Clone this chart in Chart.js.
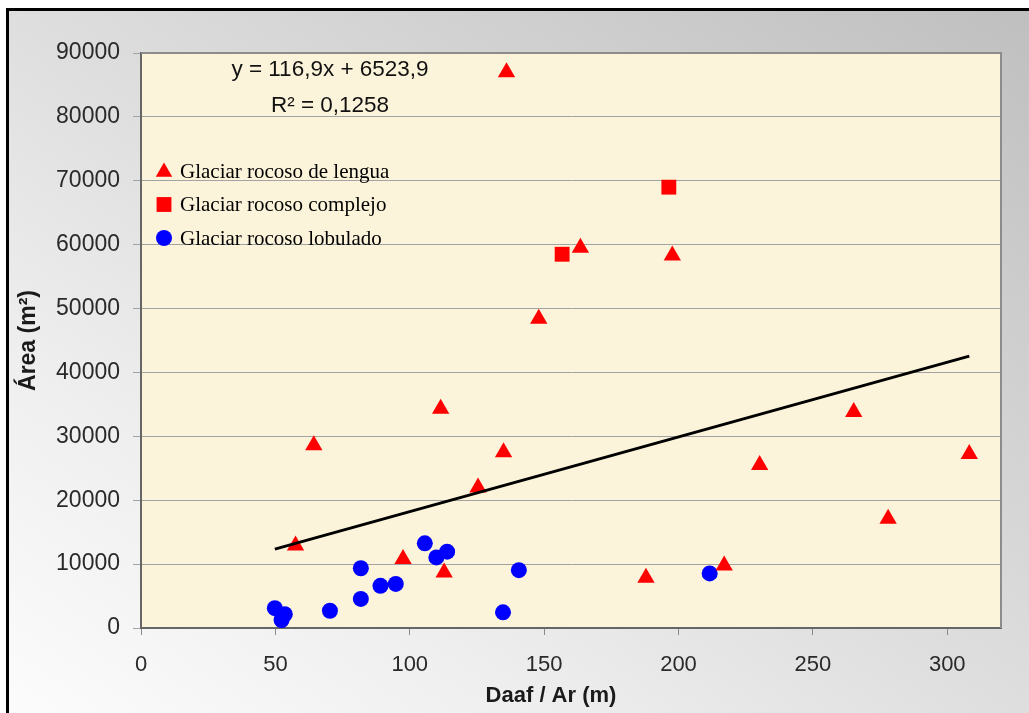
<!DOCTYPE html>
<html>
<head>
<meta charset="utf-8">
<title>Área vs Daaf / Ar</title>
<script src="https://cdn.jsdelivr.net/npm/chart.js"></script>
<style>
  html, body { margin: 0; padding: 0; background: #fff; overflow: hidden; }
  #frame {
    position: absolute; left: 6px; top: 8px; width: 1023px; height: 705px;
    border-left: 3px solid #000; border-top: 3px solid #000;
    background: linear-gradient(to bottom left, #bfbfbf 0%, #cfcfcf 25%, #dedede 50%, #efefef 75%, #fcfcfc 100%);
  }
  #wrap { position: absolute; left: 0; top: 0; width: 1029px; height: 713px; }
</style>
</head>
<body>
<div id="frame"></div>
<div id="wrap"><canvas id="chart" width="1029" height="713"></canvas></div>
<script>
// ---------- Data ----------
const lenguaX = [136, 163.5, 197.7, 148, 111.5, 64.3, 134.9, 125.4, 57.5, 97.5, 112.8, 187.9, 217, 230.2, 265.2, 278, 308.2];
const lenguaY = [87000, 59500, 58300, 48400, 34300, 28600, 27500, 22000, 12900, 10800, 8700, 7850, 9770, 25500, 33800, 17100, 27250];

const complejoX = [156.7, 196.4];
const complejoY = [58500, 69000];

const lobuladoX = [49.8, 53.5, 52.3, 70.3, 81.8, 81.8, 89.1, 94.8, 105.6, 109.9, 113.9, 134.7, 140.6, 211.6];
const lobuladoY = [3100, 2150, 1250, 2700, 9350, 4550, 6600, 6900, 13250, 11050, 11950, 2450, 9050, 8550];

// Linear trend over all points: y = 116,9x + 6523,9 (ends at data min/max x)
const trendX = [49.8, 308.2];
const trendY = [12345, 42550];

const eqLines = ["y = 116,9x + 6523,9", "R² = 0,1258"];
const xTitle = "Daaf / Ar (m)";
const yTitle = "Área (m²)";

const pts = (xs, ys) => xs.map((x, i) => ({ x, y: ys[i] }));

const SANS = "'Liberation Sans', Arial, sans-serif";
const SERIF = "'Liberation Serif', 'Times New Roman', serif";
Chart.defaults.font.family = SANS;

// ---------- Marker drawing for the in-plot legend ----------
function marker(ctx, style, x, y, r, color) {
  ctx.save();
  ctx.fillStyle = color;
  ctx.beginPath();
  if (style === "triangle") {
    ctx.moveTo(x, y - r);
    ctx.lineTo(x + r * 0.866, y + r * 0.5);
    ctx.lineTo(x - r * 0.866, y + r * 0.5);
    ctx.closePath();
  } else if (style === "rect") {
    const s = r * Math.SQRT1_2;
    ctx.rect(x - s, y - s, 2 * s, 2 * s);
  } else {
    ctx.arc(x, y, r, 0, Math.PI * 2);
  }
  ctx.fill();
  ctx.restore();
}

// Cream plot background + grey frame, equation, legend and x title.
const decor = {
  id: "decor",
  beforeDraw(chart) {
    const { ctx, chartArea: a } = chart;
    ctx.save();
    ctx.fillStyle = "#fcf4da";
    ctx.fillRect(a.left, a.top, a.right - a.left, a.bottom - a.top);
    ctx.restore();
  },
  afterDatasetsDraw(chart) {
    const { ctx, chartArea: a } = chart;
    ctx.save();
    // frame top/right
    ctx.strokeStyle = "#8c8c8c";
    ctx.lineWidth = 2;
    ctx.beginPath();
    ctx.moveTo(a.left, a.top);
    ctx.lineTo(a.right, a.top);
    ctx.lineTo(a.right, a.bottom);
    ctx.stroke();

    // regression equation
    ctx.fillStyle = "#111";
    ctx.font = "22.5px " + SANS;
    ctx.textAlign = "center";
    ctx.textBaseline = "middle";
    ctx.fillText(eqLines[0], a.left + 189, a.top + 17);
    ctx.fillText(eqLines[1], a.left + 189, a.top + 53);

    // legend (point datasets only)
    ctx.font = "21px " + SERIF;
    ctx.textAlign = "left";
    chart.data.datasets.filter(d => d.inLegend).forEach((d, i) => {
      const y = a.top + 118 + i * 33.5;
      const r = d.pointStyle === "triangle" ? 9.5 : d.pointRadius;
      marker(ctx, d.pointStyle, a.left + 23, y + (d.pointStyle === "triangle" ? 1 : 0), r, d.backgroundColor);
      ctx.fillStyle = "#000";
      ctx.fillText(d.label, a.left + 39, y + 1);
    });

    // x axis title
    ctx.font = "bold 22px " + SANS;
    ctx.textAlign = "center";
    ctx.fillStyle = "#1a1a1a";
    ctx.fillText(xTitle, 551, 696);
    ctx.restore();
  }
};

new Chart(document.getElementById("chart"), {
  type: "scatter",
  data: {
    datasets: [
      {
        label: "Tendencia", type: "line", data: pts(trendX, trendY),
        borderColor: "#000", borderWidth: 3, pointRadius: 0, fill: false, order: 0,
      },
      {
        label: "Glaciar rocoso de lengua", data: pts(lenguaX, lenguaY), inLegend: true,
        pointStyle: "triangle", pointRadius: 10, backgroundColor: "#ff0000", borderWidth: 0, order: 1,
      },
      {
        label: "Glaciar rocoso complejo", data: pts(complejoX, complejoY), inLegend: true,
        pointStyle: "rect", pointRadius: 10.5, backgroundColor: "#ff0000", borderWidth: 0, order: 1,
      },
      {
        label: "Glaciar rocoso lobulado", data: pts(lobuladoX, lobuladoY), inLegend: true,
        pointStyle: "circle", pointRadius: 8, backgroundColor: "#0000ff", borderWidth: 0, order: 1,
      },
    ]
  },
  options: {
    responsive: false, animation: false, events: [],
    layout: { padding: { left: 10, top: 53, right: 28, bottom: 0 } },
    plugins: { legend: { display: false }, tooltip: { enabled: false } },
    scales: {
      x: {
        type: "linear", min: 0, max: 320,
        afterFit: s => { s.height = 85; },
        grid: { drawOnChartArea: false, color: "#8a8a8a", tickLength: 7 },
        border: { color: "#666", width: 2 },
        ticks: { stepSize: 50, includeBounds: false, padding: 17, color: "#2a2a2a", font: { size: 22 } },
      },
      y: {
        min: 0, max: 90000,
        afterFit: s => { s.width = 131; },
        grid: { color: "#a3a3a3", lineWidth: 1, tickLength: 8 },
        border: { color: "#666", width: 2 },
        ticks: { stepSize: 10000, padding: 13, color: "#2a2a2a", font: { size: 23 }, callback: v => String(v) },
        title: { display: true, text: yTitle, color: "#1a1a1a", font: { size: 23, weight: "bold" }, padding: { top: 5, bottom: 0 } },
      }
    }
  },
  plugins: [decor]
});
</script>
</body>
</html>
